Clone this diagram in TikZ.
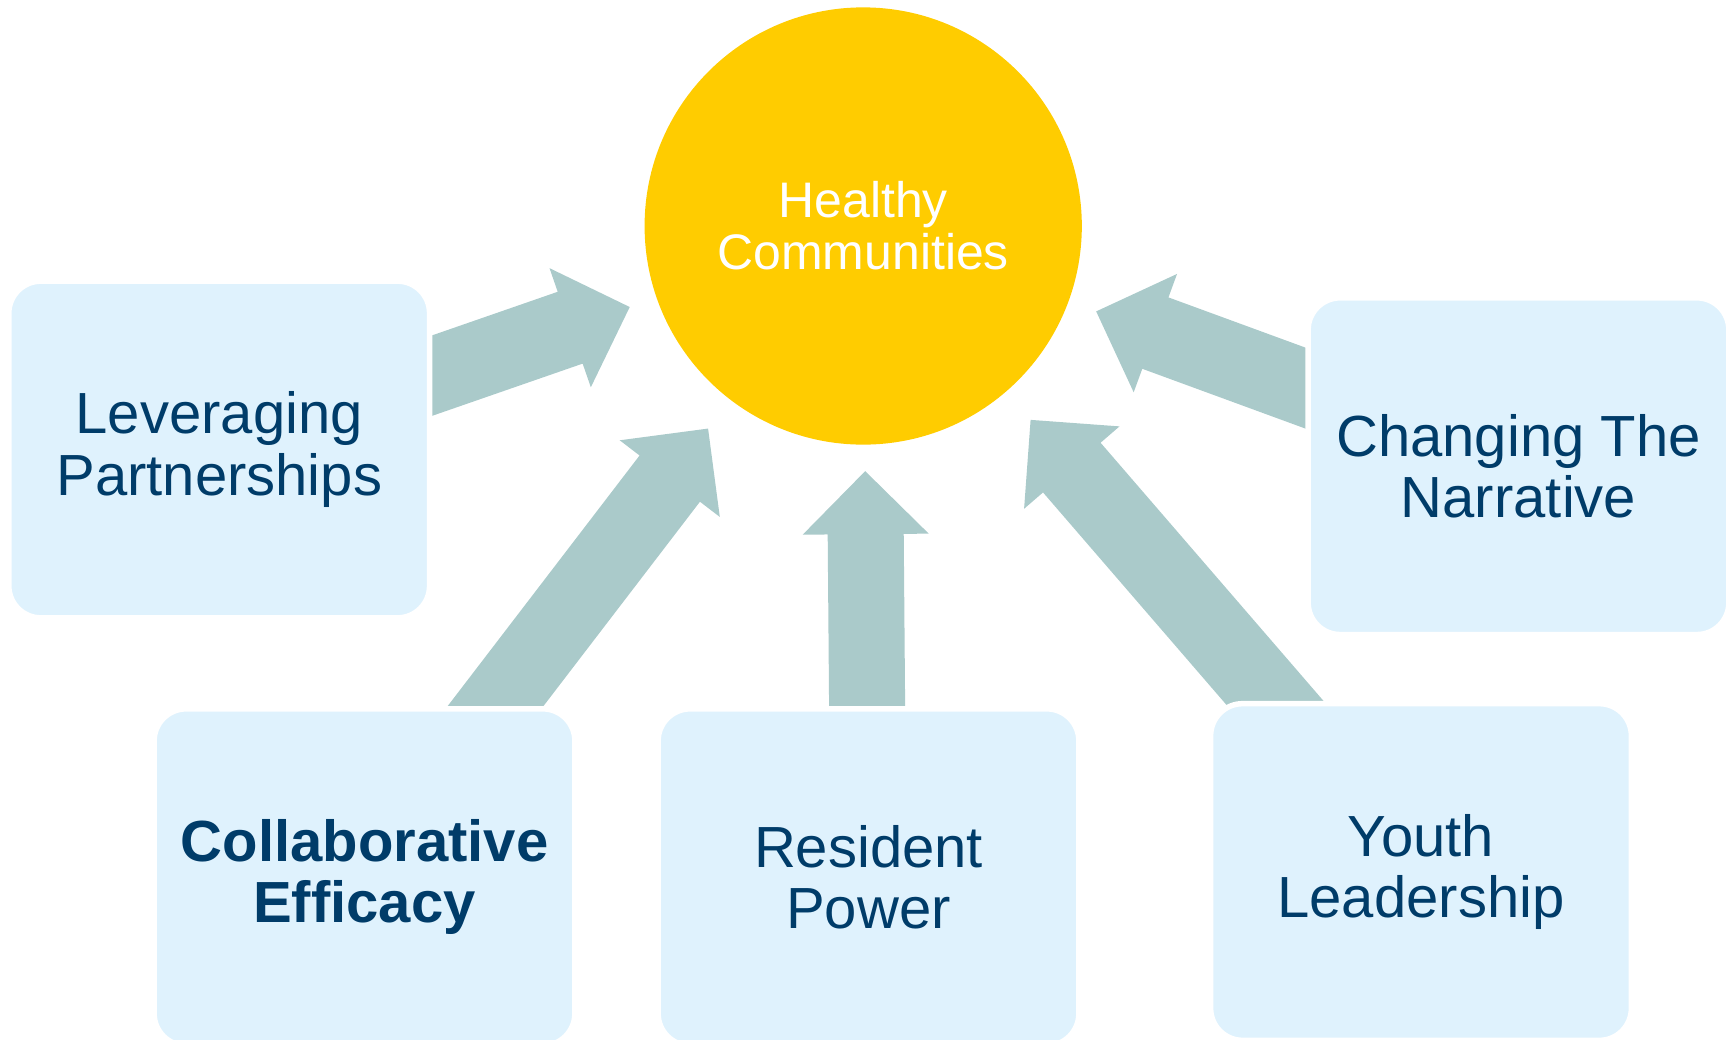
\documentclass[tikz,border=0pt]{standalone}
\usepackage{fontspec}
\setmainfont{Liberation Sans}
\usetikzlibrary{calc,backgrounds}

\definecolor{sunyellow}{HTML}{FFCC00}
\definecolor{arrowgrey}{HTML}{AACACA}
\definecolor{boxblue}{HTML}{DFF2FD}
\definecolor{inkblue}{HTML}{003C69}

\newcommand{\bigarrow}[2]{%
  \coordinate (#1tip) at ($(hc.center)!#2!(#1.center)$);
  \coordinate (#1neck) at ($(#1tip)!0.63cm!(#1.center)$);
  \fill[arrowgrey] ($(#1.center)!0.38cm!90:(hc.center)$)
    -- ($(#1neck)!0.38cm!90:(#1tip)$) -- ($(#1neck)!0.63cm!90:(#1tip)$)
    -- (#1tip)
    -- ($(#1neck)!0.63cm!-90:(#1tip)$) -- ($(#1neck)!0.38cm!-90:(#1tip)$)
    -- ($(#1.center)!0.38cm!-90:(hc.center)$) -- cycle;}

\begin{document}
\begin{tikzpicture}[x=0.01cm, y=-0.01cm,
        goal/.style={circle, fill=sunyellow, minimum size=4.37cm, inner sep=0pt,
          text=white, font=\fontsize{14.2}{14.8}\selectfont, align=center},
        pillar/.style={rectangle, rounded corners=0.32cm, fill=boxblue, draw=white,
          line width=0.055cm, minimum width=4.205cm, minimum height=3.365cm,
          inner sep=0pt, text=inkblue, font=\fontsize{16.5}{17.4}\selectfont, align=center},
        pillar bold/.style={pillar, font=\fontsize{16.5}{17.4}\selectfont\bfseries}]
  \useasboundingbox (0,0) rectangle (1733,1039);
  \node[goal] (hc) at (863.2,226) {Healthy\\Communities};
  \node[pillar] (lp) at (219.2,449.5) {Leveraging\\Partnerships};
  \node[pillar bold] (ce) at (364.5,877.2) {Collaborative\\Efficacy};
  \node[pillar] (rp) at (868.5,877.2) {Resident\\Power};
  \node[pillar] (yl) at (1421,872) {Youth\\Leadership};
  \node[pillar] (ctn) at (1518.5,466.2) {Changing The\\Narrative};
  \begin{scope}[on background layer]
    \bigarrow{lp}{2.47cm}
    \bigarrow{ce}{2.55cm}
    \bigarrow{rp}{2.45cm}
    \bigarrow{yl}{2.56cm}
    \bigarrow{ctn}{2.48cm}
  \end{scope}
\end{tikzpicture}
\end{document}
